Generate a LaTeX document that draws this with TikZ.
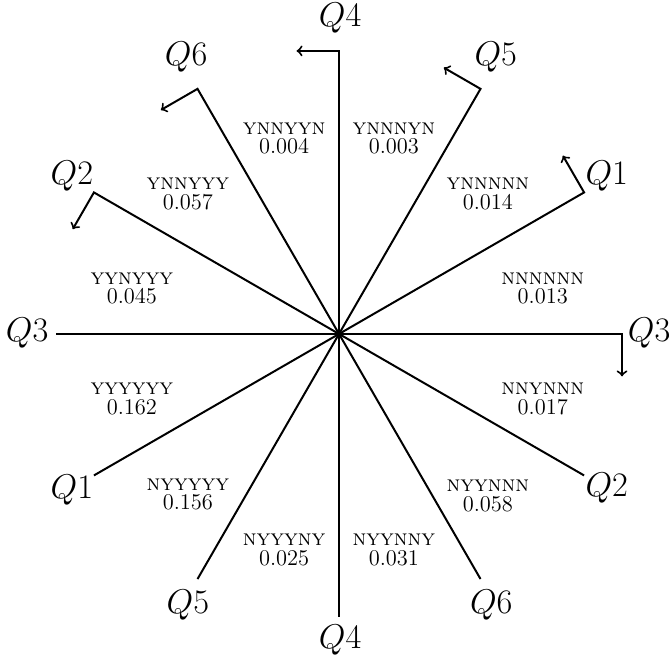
\documentclass[tikz,border=0pt]{standalone}
\usetikzlibrary{calc}
\begin{document}
\begin{tikzpicture}[line width=1pt,qlab/.style={font=\fontsize{16.5}{20}\selectfont},region/.style={align=center,font=\fontsize{11.3}{9.8}\selectfont}]
\useasboundingbox (-5.99,-5.78) rectangle (5.83,5.90);
% ends of the six axes
\coordinate (q1a) at (210:5);\coordinate (q1b) at (30:5);\coordinate (q1t) at ($(q1b)+(120:.75)$);
\coordinate (q2a) at (-30:5);\coordinate (q2b) at (150:5);\coordinate (q2t) at ($(q2b)+(240:.75)$);
\coordinate (q3a) at (180:5);\coordinate (q3b) at (0:5);\coordinate (q3t) at ($(q3b)+(270:.75)$);
\coordinate (q4a) at (270:5);\coordinate (q4b) at (90:5);\coordinate (q4t) at ($(q4b)+(180:.75)$);
\coordinate (q5a) at (240:5);\coordinate (q5b) at (60:5);\coordinate (q5t) at ($(q5b)+(150:.75)$);
\coordinate (q6a) at (300:5);\coordinate (q6b) at (120:5);\coordinate (q6t) at ($(q6b)+(210:.75)$);
\draw[->] (q1a)--(q1b)--(q1t);\draw[->] (q2a)--(q2b)--(q2t);\draw[->] (q3a)--(q3b)--(q3t);
\draw[->] (q4a)--(q4b)--(q4t);\draw[->] (q5a)--(q5b)--(q5t);\draw[->] (q6a)--(q6b)--(q6t);
% axis names
\node[qlab] (Q1a) at (-4.72,-2.76) {$Q1$};\node[qlab] (Q1b) at (4.73,2.79) {$Q1$};
\node[qlab] (Q2a) at (4.73,-2.72) {$Q2$};\node[qlab] (Q2b) at (-4.72,2.79) {$Q2$};
\node[qlab] (Q3a) at (-5.51,.02) {$Q3$};\node[qlab] (Q3b) at (5.48,.02) {$Q3$};
\node[qlab] (Q4a) at (.02,-5.41) {$Q4$};\node[qlab] (Q4b) at (.02,5.58) {$Q4$};
\node[qlab] (Q5a) at (-2.67,-4.79) {$Q5$};\node[qlab] (Q5b) at (2.77,4.89) {$Q5$};
\node[qlab] (Q6a) at (2.69,-4.79) {$Q6$};\node[qlab] (Q6b) at (-2.70,4.89) {$Q6$};
% regions
\node[region] (r1) at (-.97,3.45) {\textsc{ynnyyn}\\0.004};\node[region] (r2) at (.97,3.45) {\textsc{ynnnyn}\\0.003};
\node[region] (r3) at (2.63,2.47) {\textsc{ynnnnn}\\0.014};\node[region] (r4) at (3.60,.80) {\textsc{nnnnnn}\\0.013};
\node[region] (r5) at (3.60,-1.15) {\textsc{nnynnn}\\0.017};\node[region] (r6) at (2.63,-2.86) {\textsc{nyynnn}\\0.058};
\node[region] (r7) at (.97,-3.82) {\textsc{nyynny}\\0.031};\node[region] (r8) at (-.97,-3.82) {\textsc{nyyyny}\\0.025};
\node[region] (r9) at (-2.67,-2.84) {\textsc{nyyyyy}\\0.156};\node[region] (r10) at (-3.66,-1.15) {\textsc{yyyyyy}\\0.162};
\node[region] (r11) at (-3.66,.80) {\textsc{yynyyy}\\0.045};\node[region] (r12) at (-2.67,2.47) {\textsc{ynnyyy}\\0.057};
\end{tikzpicture}
\end{document}
